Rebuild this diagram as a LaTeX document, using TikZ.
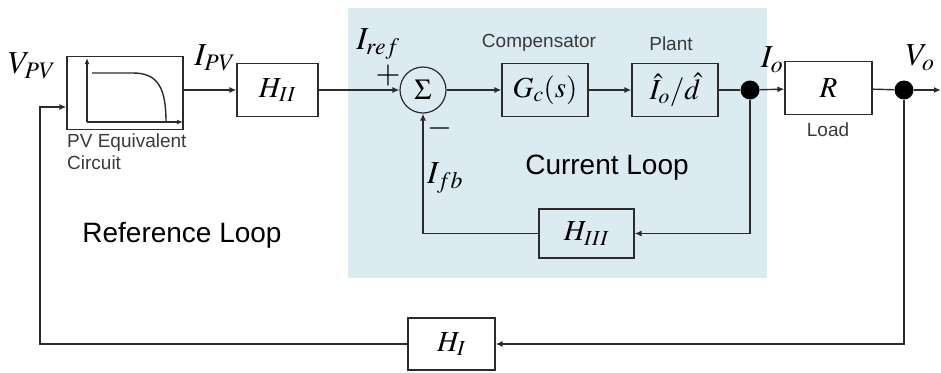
\documentclass[tikz,border=0pt]{standalone}
\usepackage{mathptmx}
\usepackage{fontspec}
\setmainfont{Liberation Sans}
\usetikzlibrary{arrows.meta}
\definecolor{bdink}{HTML}{2B2B2B}
\definecolor{bdgray}{HTML}{3A3A3A}
\definecolor{bdblue}{HTML}{DCEAF1}

\begin{document}
\begin{tikzpicture}[x=1pt, y=-1pt, text=bdgray,
    block/.style={draw=bdink, line width=1.2pt, inner sep=0pt, text=black,
      font=\fontsize{29}{31}\selectfont},
    wire/.style={draw=bdink, line width=1.4pt},
    flow/.style={wire, -{Latex[length=7pt, width=6pt]}},
    junction/.style={circle, fill=black, minimum size=19pt, inner sep=0pt},
    sig/.style={text=black, font=\fontsize{32}{34}\selectfont},
    note/.style={text=bdgray, font=\fontsize{19}{22}\selectfont},
    loopname/.style={text=black, font=\fontsize{28}{30}\selectfont},
  ]
  \useasboundingbox (0,0) rectangle (941,372);

  % current loop area
  \fill[bdblue] (348,8) rectangle (767,278);

  % blocks
  \node[block, minimum width=116pt, minimum height=73pt] (pv) at (125,93) {};
  \node[block, minimum width=81pt, minimum height=53pt] (h2) at (277.5,90) {$H_{II}$};
  \node[block, circle, minimum size=46pt] (sum) at (423,90) {$\Sigma$};
  \node[block, minimum width=86pt, minimum height=53pt] (gc) at (545,90) {$G_c(s)$};
  \node[block, minimum width=86pt, minimum height=53pt] (plant) at (675,90) {$\hat{I}_o/\hat{d}$};
  \node[junction] (io) at (750,90) {};
  \node[block, minimum width=87pt, minimum height=53pt] (load) at (828.5,88) {$R$};
  \node[junction] (vo) at (904,90) {};
  \coordinate (out) at (941,90);
  \node[block, minimum width=95pt, minimum height=49pt] (h3) at (586.5,233.5) {$H_{III}$};
  \node[block, minimum width=87pt, minimum height=52pt] (h1) at (451.5,344) {$H_{I}$};
  \coordinate (fbl) at (40,107);

  % PV curve inside the block
  \draw[wire, -{Latex[length=6pt, width=5pt]}] (87,122) -- (87,58);
  \draw[wire, -{Latex[length=6pt, width=5pt]}] (87,122) -- (183,122);
  \draw[wire] (92,73) -- (133,73) .. controls (158,73) and (166,88) .. (166,122);

  % forward path
  \draw[flow] (pv.east |- h2) -- (h2);
  \draw[flow] (h2) -- (sum);
  \draw[flow] (sum) -- (gc);
  \draw[flow] (gc) -- (plant);
  \draw[wire] (plant) -- (io);
  \draw[flow] (io) -- (load);
  \draw[wire] (load) -- (vo);
  \draw[flow] (vo) -- (out);

  % feedback paths
  \draw[flow] (io) |- (h3);
  \draw[flow] (h3) -| (sum);
  \draw[flow] (vo) |- (h1);
  \draw[flow] (h1) -| (fbl) -- (pv.west |- fbl);

  % signal labels
  \node[sig] (vpv) at (32,66) {$V_{PV}$};
  \node[sig] (ipv) at (215,58) {$I_{PV}$};
  \node[sig] (iref) at (378,44) {$I_{ref}$};
  \node[sig] (plus) at (388,76) {$+$};
  \node[sig] (minus) at (440,128) {$-$};
  \node[sig] (ifb) at (445,178) {$I_{fb}$};
  \node[sig] (iolab) at (772,60) {$I_o$};
  \node[sig] (volab) at (920,58) {$V_o$};

  % block captions
  \node[note] (comp) at (539,43) {Compensator};
  \node[note] (plantlab) at (671,44) {Plant};
  \node[note] (loadlab) at (828,130) {Load};
  \node[note, anchor=north west, align=left, inner sep=0pt] (pvlab) at (67,134) {PV Equivalent\\Circuit};
  \node[loopname] (cloop) at (607,168) {Current Loop};
  \node[loopname] (rloop) at (182,235) {Reference Loop};
\end{tikzpicture}
\end{document}
